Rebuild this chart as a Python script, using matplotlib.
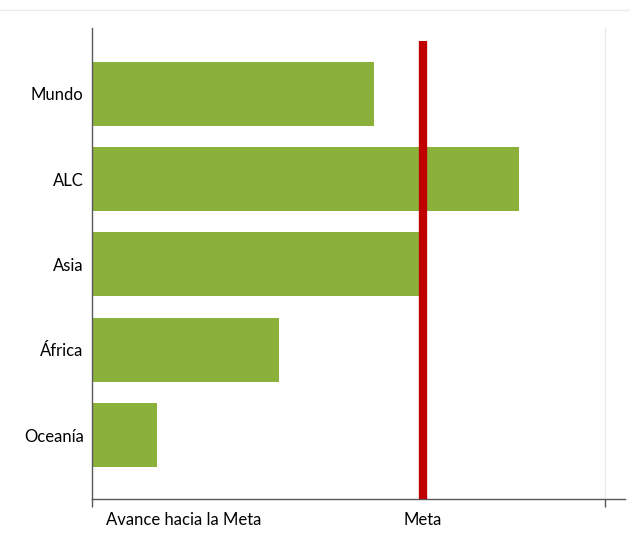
import matplotlib
matplotlib.use("Agg")
import matplotlib.pyplot as plt
from matplotlib.lines import Line2D

# data (progress toward the goal, Meta = 1)
regions = ["Mundo", "ALC", "Asia", "África", "Oceanía"]
progress = [0.852, 1.29, 0.991, 0.565, 0.196]
meta_value = 1.0
axis_end = 1.55

BAR_C = "#8BB13B"
RED_C = "#C00000"
AX_C = "#595959"

plt.rcParams["font.family"] = ["Lato", "DejaVu Sans"]

fig = plt.figure(figsize=(6.3, 5.42), dpi=100)
ax = fig.add_axes([92 / 630, 1 - 499 / 542, (625 - 92) / 630, (499 - 28) / 542])

ypos = list(range(len(regions)))
ax.barh(ypos, progress, height=0.75, color=BAR_C, edgecolor="none", zorder=2)

ax.axvline(meta_value, ymin=0, ymax=0.972, color=RED_C, linewidth=6,
           solid_capstyle="butt", zorder=3)
ax.axvline(axis_end, color="#E6EBEB", linewidth=1, zorder=1)

ax.set_xlim(0, (625 - 92) / 331)
ax.set_ylim(4.75, -0.77)

ax.set_yticks(ypos)
ax.set_yticklabels(regions, fontsize=12)
ax.tick_params(axis="y", length=0, pad=6)
ax.set_xticks([0, axis_end])
ax.set_xticklabels([])
ax.tick_params(axis="x", direction="out", length=6, color=AX_C, width=1)

for s in ["top", "right"]:
    ax.spines[s].set_visible(False)
for s in ["left", "bottom"]:
    ax.spines[s].set_color(AX_C)
    ax.spines[s].set_linewidth(1)

ax.text(0.026, -0.045, "Avance hacia la Meta", transform=ax.transAxes,
        ha="left", va="center", fontsize=12)
ax.text(meta_value, -0.045, "Meta", transform=ax.get_xaxis_transform(),
        ha="center", va="center", fontsize=12)

fig.add_artist(Line2D([0, 1], [1 - 10 / 542] * 2, transform=fig.transFigure,
                      color="#E8ECEC", linewidth=1))

fig.savefig("out.png", dpi=100)
plt.close(fig)
